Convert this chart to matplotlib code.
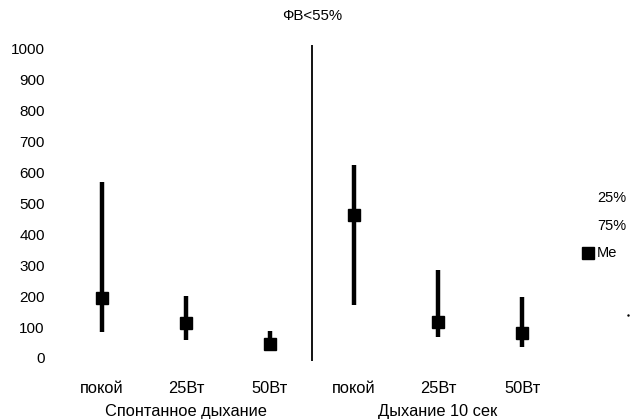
import matplotlib
matplotlib.use('Agg')
import matplotlib.pyplot as plt
from matplotlib.lines import Line2D

plt.rcParams['font.family'] = ['Liberation Sans', 'DejaVu Sans']

categories = ['покой', '25Вт', '50Вт', 'покой', '25Вт', '50Вт']
groups = ['Спонтанное дыхание', 'Дыхание 10 сек']
group_centers = [1, 4]
q25 = [85, 58, 24, 172, 69, 37]
q75 = [570, 202, 87, 625, 285, 198]
median = [195, 112, 45, 463, 115, 82]
yticks = [0, 100, 200, 300, 400, 500, 600, 700, 800, 900, 1000]
title = 'ФВ<55%'

W, H = 630, 420
fig = plt.figure(figsize=(W / 100, H / 100), dpi=100)
ax = fig.add_axes([60 / W, 58 / H, 510 / W, 322 / H])

x = list(range(len(categories)))
ax.vlines(x, q25, q75, colors='black', linewidth=3.2)
ax.plot(x, median, 's', color='black', markersize=9)

# separator between the two groups
ax.vlines(2.5, -10, 1013, colors='black', linewidth=1.3)

ax.set_xlim(-0.5, 5.571)
ax.set_ylim(-13, 1029)
ax.set_xticks(x, categories)
ax.set_yticks(yticks, [str(v) for v in yticks])
ax.tick_params(axis='both', length=0)
ax.tick_params(axis='x', pad=14, labelsize=11.8)
ax.tick_params(axis='y', pad=11, labelsize=11)
for s in ax.spines.values():
    s.set_visible(False)

for gx, g in zip(group_centers, groups):
    ax.text(gx, -0.155, g, transform=ax.get_xaxis_transform(),
            ha='center', va='center', fontsize=11.8)

fig.text(312 / W, 1 - 16 / H, title, ha='center', va='center', fontsize=10.8)

# legend
fig.text(597 / W, 1 - 198 / H, '25%', ha='left', va='center', fontsize=10.5)
fig.text(597 / W, 1 - 226 / H, '75%', ha='left', va='center', fontsize=10.5)
fig.add_artist(Line2D([588 / W], [1 - 253 / H], marker='s', markersize=8,
                      color='black', linestyle='none', transform=fig.transFigure))
fig.text(597 / W, 1 - 253 / H, 'Me', ha='left', va='center', fontsize=10.5)
fig.add_artist(Line2D([628 / W], [1 - 315 / H], marker='.', markersize=1.5,
                      color='black', linestyle='none', transform=fig.transFigure))

fig.savefig('out.png', dpi=100, facecolor='white')
